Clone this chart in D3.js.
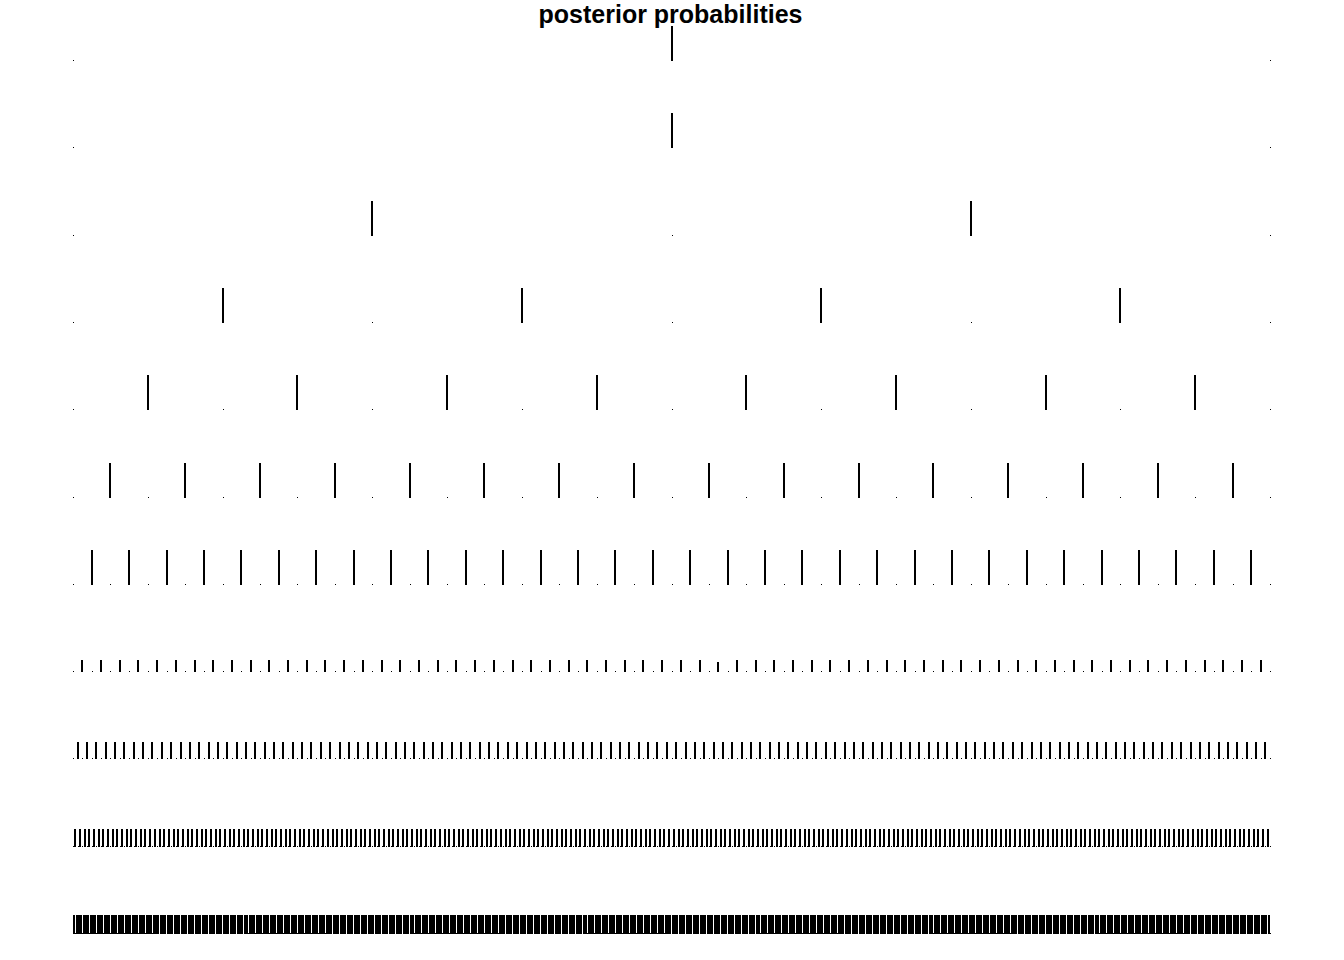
<!DOCTYPE html>
<html>
<head>
<meta charset="utf-8">
<script src="https://cdn.jsdelivr.net/npm/d3@7"></script>
<style>
  html, body { margin: 0; padding: 0; background: #ffffff; }
  svg { display: block; }
</style>
</head>
<body>
<script>
// ---- data ----
const title = "posterior probabilities";
// number of grid points in each panel (x runs from 0 to 1)
const pointCounts = [3, 3, 5, 9, 17, 33, 65, 129, 257, 513, 1025];
// posterior mass on each odd grid point, per panel (scaled to the panel's y range)
const barValues = [1, 1, 1, 1, 1, 1, 1, 0.35, 0.49, 0.52, 0.53];
// mass on even grid points (zero: drawn as a dot)
const zeroValue = 0;
// individual deviations: [panel, point index, value]
const exceptions = [[7, 69, 0.29]];

// ---- layout ----
const W = 1344, H = 960;
const svg = d3.select("body").append("svg").attr("width", W).attr("height", H);

const x = d3.scaleLinear().domain([0, 1]).range([73, 1270]);
const baseline = d3.scaleLinear().domain([0, pointCounts.length - 1]).range([61, 934]);
const h = d3.scaleLinear().domain([0, 1]).range([0, 35]);

svg.append("text")
  .attr("x", 670.5).attr("y", 23)
  .attr("text-anchor", "middle")
  .style("font-family", "'Liberation Sans', Arial, sans-serif")
  .style("font-weight", "bold")
  .style("font-size", "25px")
  .attr("fill", "#000")
  .text(title);

const exMap = new Map(exceptions.map(e => [e[0] + ":" + e[1], e[2]]));

pointCounts.forEach((n, r) => {
  const pts = d3.range(n).map(i => {
    const key = r + ":" + i;
    let v = (i % 2 === 1) ? barValues[r] : zeroValue;
    if (exMap.has(key)) v = exMap.get(key);
    return { x: i / (n - 1), v };
  });
  const g = svg.append("g").attr("shape-rendering", "crispEdges");
  const b0 = baseline(r);
  g.selectAll("rect.bar").data(pts.filter(d => d.v > 0)).join("rect")
    .attr("class", "bar")
    .attr("x", d => Math.round(x(d.x)) - 1)
    .attr("width", 2)
    .attr("y", d => Math.round(b0 - h(d.v)))
    .attr("height", d => Math.round(b0) - Math.round(b0 - h(d.v)))
    .attr("fill", "#000");
  g.selectAll("rect.dot").data(pts.filter(d => d.v <= 0)).join("rect")
    .attr("class", "dot")
    .attr("x", d => Math.round(x(d.x)))
    .attr("width", 1)
    .attr("y", Math.round(b0) - 1)
    .attr("height", 1)
    .attr("fill", "#000");
});
</script>
</body>
</html>
